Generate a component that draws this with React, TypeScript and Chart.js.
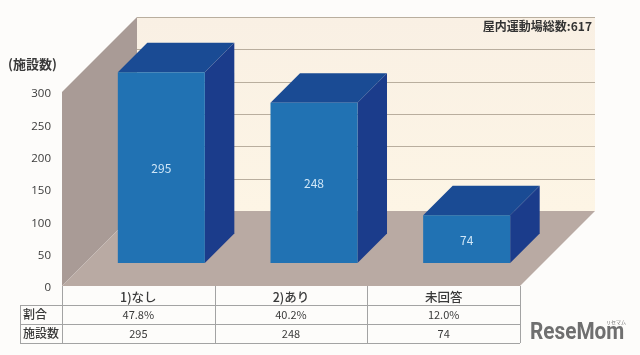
import React, { useEffect, useRef } from "react";
import { Chart, registerables } from "chart.js";

Chart.register(...registerables);

const categories = ["1)なし", "2)あり", "未回答"];
const facilityCounts = [295, 248, 74];
const shares = ["47.8%", "40.2%", "12.0%"];
const rowHeads = ["割合", "施設数"];
const yMax = 300;
const yStep = 50;
const unitLabel = "(施設数)";
const totalLabel = "屋内運動場総数:617";

const FONT = '"Noto Sans CJK JP", "Noto Sans", sans-serif';
const ROOM_DEPTH = 75;
const BAR_SHIFT = 23;
const BAR_DEPTH = 29.5;

function poly(ctx: CanvasRenderingContext2D, pts: number[][], fill: string) {
  ctx.beginPath();
  pts.forEach((p, i) => (i ? ctx.lineTo(p[0], p[1]) : ctx.moveTo(p[0], p[1])));
  ctx.closePath();
  ctx.fillStyle = fill;
  ctx.fill();
}

function label(
  ctx: CanvasRenderingContext2D,
  s: string,
  x: number,
  y: number,
  font: string,
  color: string,
  align: CanvasTextAlign = "center",
) {
  ctx.font = font;
  ctx.fillStyle = color;
  ctx.textAlign = align;
  ctx.textBaseline = "middle";
  ctx.fillText(s, x, y);
}

const roomPlugin = {
  id: "room",
  beforeDraw(chart: any) {
    const { ctx, chartArea: a, scales } = chart;
    const d = ROOM_DEPTH;
    ctx.save();
    ctx.fillStyle = "#fdfcfa";
    ctx.fillRect(0, 0, chart.width, chart.height);
    const g = ctx.createLinearGradient(0, a.top - d, 0, a.bottom - d);
    g.addColorStop(0, "#f9f0e4");
    g.addColorStop(1, "#fdf5e5");
    ctx.fillStyle = g;
    ctx.fillRect(a.left + d, a.top - d, a.width, a.height);
    poly(ctx, [[a.left, a.bottom], [a.left, a.top], [a.left + d, a.top - d], [a.left + d, a.bottom - d]], "#a99b96");
    poly(ctx, [[a.left, a.bottom], [a.right, a.bottom], [a.right + d, a.bottom - d], [a.left + d, a.bottom - d]], "#b9aaa3");
    ctx.strokeStyle = "#b9ae9e";
    ctx.lineWidth = 1;
    scales.y.ticks.forEach((t: any) => {
      if (t.value === 0) return;
      const y = Math.round(scales.y.getPixelForValue(t.value) - d) + 0.5;
      ctx.beginPath();
      ctx.moveTo(a.left + d, y);
      ctx.lineTo(a.right + d, y);
      ctx.stroke();
    });
    ctx.restore();
  },
  beforeDatasetsDraw(chart: any) {
    const { ctx } = chart;
    const dp = BAR_DEPTH;
    ctx.save();
    ctx.translate(BAR_SHIFT, -BAR_SHIFT);
    chart.getDatasetMeta(0).data.forEach((bar: any) => {
      const l = bar.x - bar.width / 2;
      const r = bar.x + bar.width / 2;
      poly(ctx, [[l, bar.y], [r, bar.y], [r + dp, bar.y - dp], [l + dp, bar.y - dp]], "#1a4b94");
      poly(ctx, [[r, bar.y], [r + dp, bar.y - dp], [r + dp, bar.base - dp], [r, bar.base]], "#1b3c8b");
    });
  },
  afterDatasetsDraw(chart: any) {
    const { ctx } = chart;
    ctx.restore();
    chart.getDatasetMeta(0).data.forEach((bar: any, i: number) => {
      label(
        ctx,
        String(facilityCounts[i]),
        bar.x + BAR_SHIFT,
        (bar.y + bar.base) / 2 - BAR_SHIFT + 1,
        `12px ${FONT}`,
        "#cfe6f7",
      );
    });
  },
  afterDraw(chart: any) {
    const { ctx, chartArea: a, scales } = chart;
    const rows = [a.bottom + 19, a.bottom + 38, a.bottom + 57];
    const headLeft = 20;
    ctx.save();
    scales.y.ticks.forEach((t: any) => {
      label(ctx, t.label, 51, scales.y.getPixelForValue(t.value) + 2, `11.5px "Open Sans", sans-serif`, "#3a3a3a", "right");
    });
    ctx.strokeStyle = "#a3a3a3";
    ctx.lineWidth = 1;
    const hline = (y: number) => {
      ctx.beginPath();
      ctx.moveTo(headLeft, y + 0.5);
      ctx.lineTo(a.right, y + 0.5);
      ctx.stroke();
    };
    rows.forEach(hline);
    const band = scales.x.getPixelForTick(1) - scales.x.getPixelForTick(0);
    [0, 1, 2, 3].forEach((k) => {
      const x = Math.round(a.left + k * band) + 0.5;
      ctx.beginPath();
      ctx.moveTo(x, a.bottom);
      ctx.lineTo(x, rows[2]);
      ctx.stroke();
    });
    ctx.beginPath();
    ctx.moveTo(headLeft + 0.5, rows[0]);
    ctx.lineTo(headLeft + 0.5, rows[2]);
    ctx.stroke();
    rowHeads.forEach((h, r) => {
      label(ctx, h, headLeft + 3, rows[r] + 9.5, `500 12px ${FONT}`, "#3a3a3a", "left");
    });
    categories.forEach((_, i) => {
      const x = scales.x.getPixelForTick(i);
      label(ctx, shares[i], x, rows[0] + 9.5, `11px ${FONT}`, "#3a3a3a");
      label(ctx, String(facilityCounts[i]), x, rows[1] + 9.5, `11px ${FONT}`, "#3a3a3a");
    });
    label(ctx, unitLabel, 8, 64, `700 13px ${FONT}`, "#3a3a3a", "left");
    label(ctx, totalLabel, 592, 26, `700 12px ${FONT}`, "#333333", "right");
    ctx.save();
    ctx.translate(530, 333);
    ctx.scale(0.865, 1);
    label(ctx, "ReseMom", 0, 0, `700 24px "Roboto", sans-serif`, "#6f6f6f", "left");
    ctx.restore();
    label(ctx, "リセマム", 616, 322, `5px ${FONT}`, "#6f6f6f");
    ctx.restore();
  },
};

export default function App() {
  const ref = useRef<HTMLCanvasElement>(null);
  useEffect(() => {
    const chart = new Chart(ref.current!, {
      type: "bar",
      data: {
        labels: categories,
        datasets: [
          {
            data: facilityCounts,
            backgroundColor: "#2172b3",
            barPercentage: 0.57,
            categoryPercentage: 1,
            clip: false,
          } as any,
        ],
      },
      options: {
        responsive: false,
        animation: false,
        layout: { padding: { top: 92, right: 120, left: 0, bottom: 0 } },
        plugins: { legend: { display: false }, tooltip: { enabled: false } },
        scales: {
          x: {
            grid: { display: false, drawTicks: false },
            border: { display: false },
            ticks: { padding: 4, maxRotation: 0, color: "#3a3a3a", font: { size: 12.5, weight: "500", family: FONT } },
            afterFit: (s: any) => {
              s.height = 69;
            },
          },
          y: {
            min: 0,
            max: yMax,
            grid: { display: false, drawTicks: false },
            border: { display: false },
            ticks: { display: false, stepSize: yStep },
            afterFit: (s: any) => {
              s.width = 62;
            },
          },
        },
      },
      plugins: [roomPlugin],
    } as any);
    return () => chart.destroy();
  }, []);
  return (
    <canvas
      ref={ref}
      width={640}
      height={355}
      style={{ position: "absolute", left: 0, top: 0, width: 640, height: 355 }}
    />
  );
}
